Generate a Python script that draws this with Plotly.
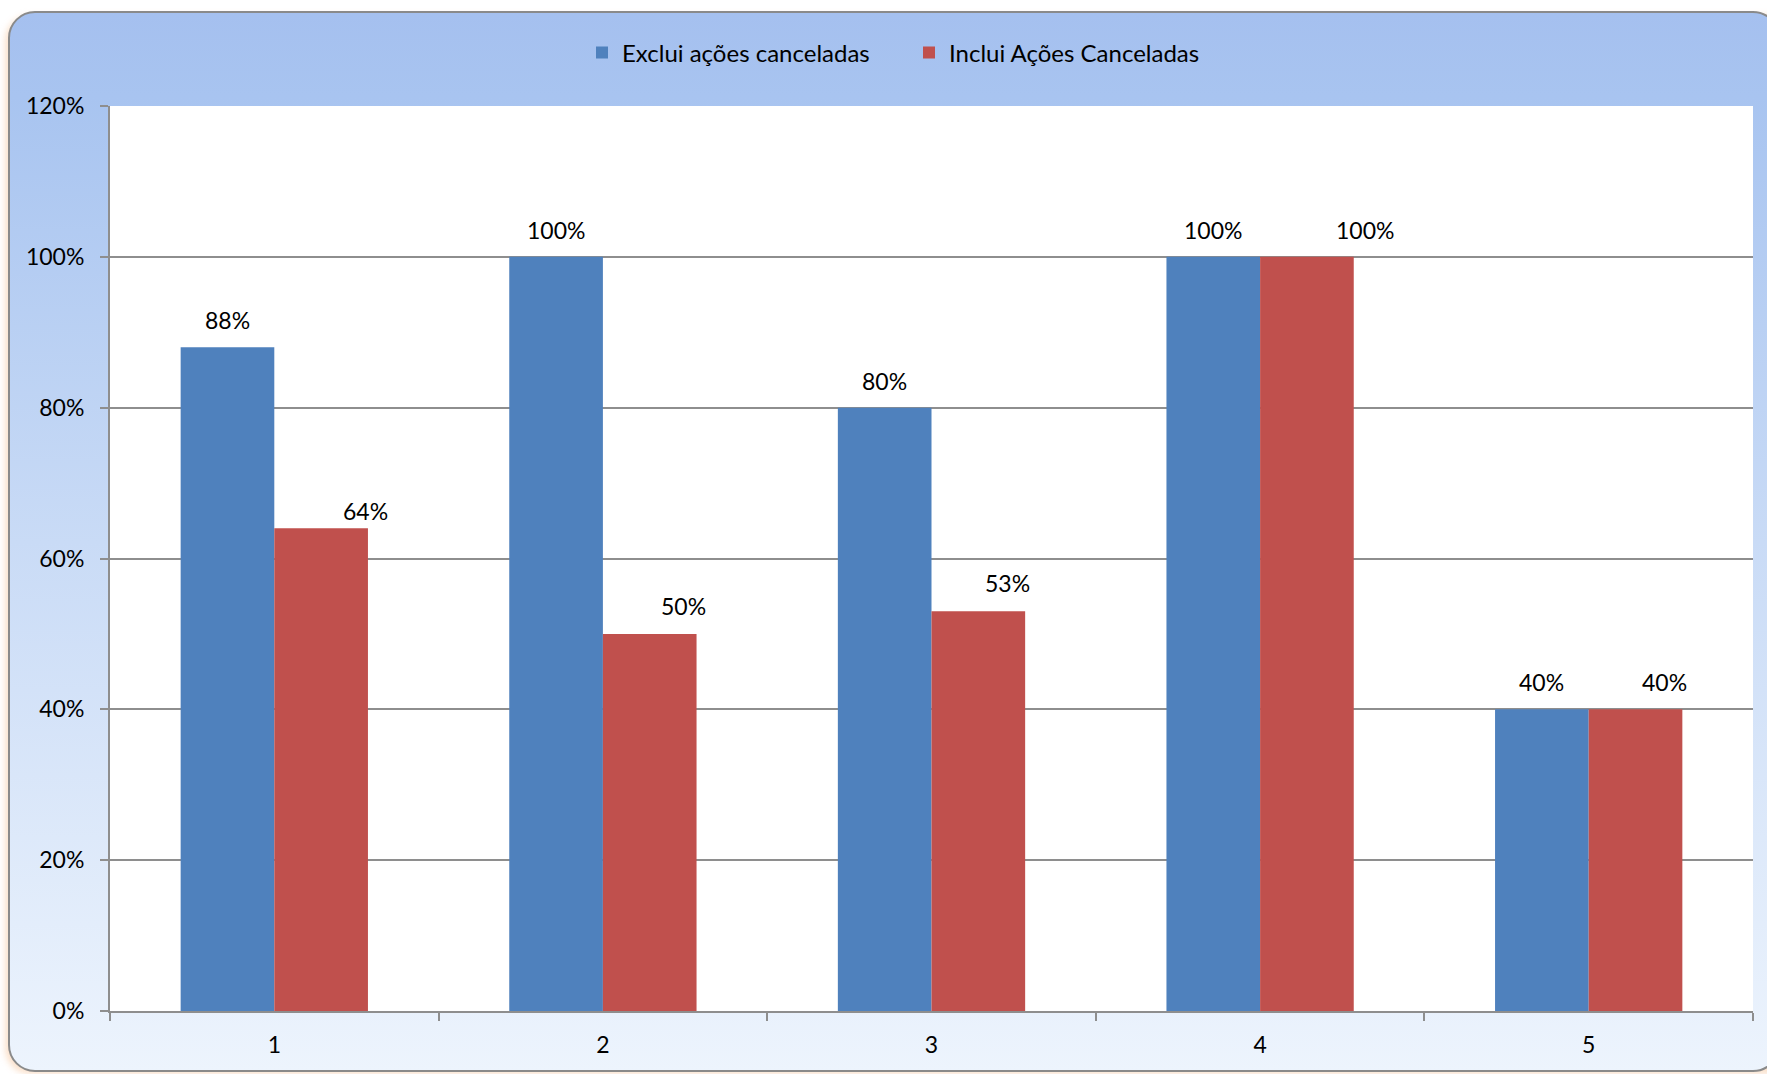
import base64
import plotly.graph_objects as go

# ---- data -------------------------------------------------------------
categories = ["1", "2", "3", "4", "5"]
exclui = [0.88, 1.00, 0.80, 1.00, 0.40]
inclui = [0.64, 0.50, 0.53, 1.00, 0.40]
series_names = ["Exclui ações canceladas", "Inclui Ações Canceladas"]
y_ticks = [0, 0.2, 0.4, 0.6, 0.8, 1.0, 1.2]

# ---- style ------------------------------------------------------------
W, H = 1767, 1074
M_L, M_R, M_T, M_B = 110, 14, 106, 63
BLUE, RED = "#4f81bd", "#c0504d"
GRID = "#8e8e8e"
FONT = "Lato"
BARGAP = 0.43
# label nudges (px) for the second series, as laid out by the spreadsheet
red_dx = [44, 34, 29, 58, 29]
red_dy = [16, 27, 27, 26, 26]
blue_dy = [26, 26, 26, 26, 26]

plot_w = W - M_L - M_R
plot_h = H - M_T - M_B

# rounded chart panel with vertical gradient, drawn as an SVG background
svg = f'''<svg xmlns="http://www.w3.org/2000/svg" width="{W}" height="{H}" viewBox="0 0 {W} {H}">
<defs>
<linearGradient id="g" x1="0" y1="0" x2="0" y2="1">
<stop offset="0" stop-color="#a5c0ef"/>
<stop offset="0.08" stop-color="#a8c4f0"/>
<stop offset="0.5" stop-color="#c9dbf6"/>
<stop offset="1" stop-color="#edf4fd"/>
</linearGradient>
<filter id="b" x="-5%" y="-5%" width="110%" height="110%"><feGaussianBlur stdDeviation="3"/></filter>
</defs>
<rect x="5" y="15" width="1790" height="1059" rx="26" fill="#f6c9a3" opacity="0.55" filter="url(#b)"/>
<rect x="9" y="12" width="1770" height="1059" rx="26" fill="url(#g)" stroke="#8a8a8a" stroke-width="2"/>
</svg>'''
svg_uri = "data:image/svg+xml;base64," + base64.b64encode(svg.encode("utf-8")).decode()

fig = go.Figure()
fig.add_trace(go.Bar(x=categories, y=exclui, name=series_names[0],
                     marker=dict(color=BLUE, line=dict(width=0))))
fig.add_trace(go.Bar(x=categories, y=inclui, name=series_names[1],
                     marker=dict(color=RED, line=dict(width=0))))

# value labels above each bar
half = (1 - BARGAP) / 4
for i, cat in enumerate(categories):
    fig.add_annotation(x=i - half, y=exclui[i], xref="x", yref="y",
                       text=f"{exclui[i]:.0%}", showarrow=False,
                       yanchor="middle", yshift=blue_dy[i] + 1,
                       font=dict(family=FONT, size=23, color="#000000"))
    fig.add_annotation(x=i + half, y=inclui[i], xref="x", yref="y",
                       text=f"{inclui[i]:.0%}", showarrow=False,
                       yanchor="middle", yshift=red_dy[i] + 1, xshift=red_dx[i],
                       font=dict(family=FONT, size=23, color="#000000"))

fig.update_layout(
    width=W, height=H,
    margin=dict(l=M_L, r=M_R, t=M_T, b=M_B, pad=0),
    paper_bgcolor="#ffffff",
    plot_bgcolor="rgba(0,0,0,0)",
    barmode="group", bargap=BARGAP, bargroupgap=0,
    font=dict(family=FONT, size=23, color="#000000"),
    showlegend=True,
    legend=dict(orientation="h", x=(582 - M_L) / plot_w, xanchor="left",
                y=1 + 53 / plot_h, yanchor="middle",
                entrywidth=282, entrywidthmode="pixels",
                bgcolor="rgba(0,0,0,0)", font=dict(family=FONT, size=24),
                itemclick=False, traceorder="normal"),
    images=[dict(source=svg_uri, xref="paper", yref="paper",
                 x=-M_L / plot_w, y=1 + M_T / plot_h,
                 sizex=W / plot_w, sizey=H / plot_h,
                 xanchor="left", yanchor="top", sizing="stretch",
                 layer="below")],
    shapes=[dict(type="rect", xref="paper", yref="paper", x0=0, x1=1, y0=0, y1=1,
                 fillcolor="#ffffff", line=dict(width=0), layer="below")],
)

fig.update_xaxes(type="category", showgrid=False, showline=True,
                 linecolor=GRID, linewidth=2, ticks="outside", tickson="boundaries",
                 ticklen=8, tickcolor=GRID, tickwidth=2, ticklabelstandoff=12,
                 tickfont=dict(family=FONT, size=23), zeroline=False)
fig.update_yaxes(range=[0, 1.2], tickvals=y_ticks, tickformat=".0%",
                 showgrid=True, gridcolor=GRID, gridwidth=1.5,
                 showline=True, linecolor=GRID, linewidth=2,
                 ticks="outside", ticklen=8, tickcolor=GRID, tickwidth=2,
                 ticklabelstandoff=11, zeroline=False,
                 tickfont=dict(family=FONT, size=23))

fig.write_html("out.html")
